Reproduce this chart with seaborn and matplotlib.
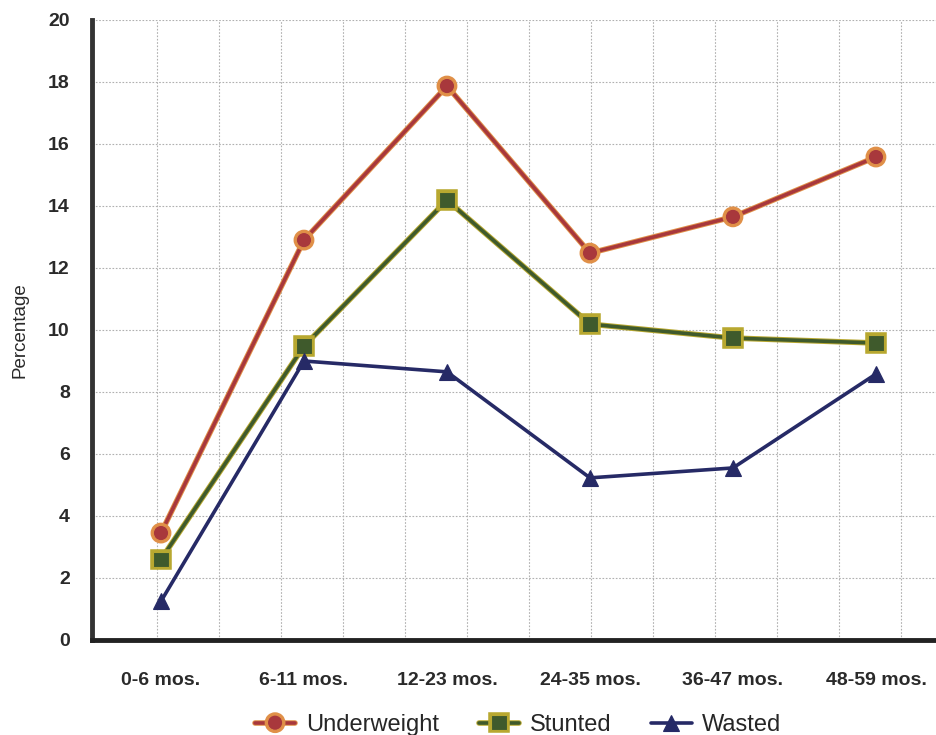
import numpy as np
import pandas as pd
import matplotlib
matplotlib.use("Agg")
import matplotlib.pyplot as plt
import matplotlib.patheffects as pe
from matplotlib.ticker import FixedLocator, NullFormatter
import seaborn as sns

categories = ["0-6 mos.", "6-11 mos.", "12-23 mos.", "24-35 mos.", "36-47 mos.", "48-59 mos."]
underweight = [3.45, 12.9, 17.87, 12.48, 13.65, 15.58]
stunted = [2.6, 9.48, 14.19, 10.19, 9.74, 9.58]
wasted = [1.25, 9.0, 8.65, 5.23, 5.55, 8.58]
series_names = ["Underweight", "Stunted", "Wasted"]

df = pd.DataFrame({
    "age": categories * 3,
    "value": underweight + stunted + wasted,
    "series": [s for s in series_names for _ in categories],
})

sns.set_style("white")
plt.rcParams["font.family"] = ["Liberation Sans", "DejaVu Sans"]

fig = plt.figure(figsize=(9.36, 7.35), dpi=100)
ax = fig.add_axes([92/936, 1-640/735, 1-92/936, 620/735])

palette = {"Underweight": "#a8383c", "Stunted": "#3f5a2c", "Wasted": "#262a66"}
markers = {"Underweight": "o", "Stunted": "s", "Wasted": "^"}
sns.lineplot(data=df, x="age", y="value", hue="series", style="series",
             palette=palette, markers=markers, dashes=False, markersize=11,
             linewidth=2.6, ax=ax, sort=False, legend=True)

edge = {"Underweight": "#e09048", "Stunted": "#b8a830", "Wasted": "#262a66"}
for line in ax.get_lines():
    for name in series_names:
        if line.get_label() == name or line.get_color() == palette[name]:
            line.set_markeredgecolor(edge[name])
            line.set_markeredgewidth(0.8)
            if name != "Wasted":
                line.set_path_effects([pe.Stroke(linewidth=4.0, foreground=edge[name]), pe.Normal()])

ax.set_ylim(0, 20)
ax.set_xlim(-0.4825, 5.42)
ax.set_yticks(np.arange(0, 21, 2))
ax.xaxis.set_minor_locator(FixedLocator(-0.028 + 0.4336 * np.arange(0, 13)))
ax.xaxis.set_minor_formatter(NullFormatter())
ax.grid(False)
ax.grid(which="minor", axis="x", color="#b0b0b0", linestyle=(0, (1.5, 1.5)), linewidth=0.8)
ax.grid(which="major", axis="y", color="#b0b0b0", linestyle=(0, (1.5, 1.5)), linewidth=0.8)
ax.tick_params(axis="both", which="both", length=0)
ax.tick_params(axis="x", pad=23)
ax.tick_params(axis="y", pad=16)
for t in ax.get_xticklabels() + ax.get_yticklabels():
    t.set_fontweight("bold")
    t.set_fontsize(14)
    t.set_color("#2a2a2a")
ax.set_xlabel("")
ax.set_ylabel("Percentage", fontsize=13.5, color="#2a2a2a", labelpad=14)

for s in ["top", "right"]:
    ax.spines[s].set_visible(False)
ax.spines["left"].set_linewidth(3.5)
ax.spines["left"].set_color("#333333")
ax.spines["bottom"].set_linewidth(3.5)
ax.spines["bottom"].set_color("#222222")

handles, labels = ax.get_legend_handles_labels()
ax.legend(handles, labels, loc="center", bbox_to_anchor=(0.505, -0.137), ncol=3,
          frameon=False, fontsize=17, handlelength=1.7, columnspacing=1.7,
          handletextpad=0.45)

fig.savefig("out.png", dpi=100)
